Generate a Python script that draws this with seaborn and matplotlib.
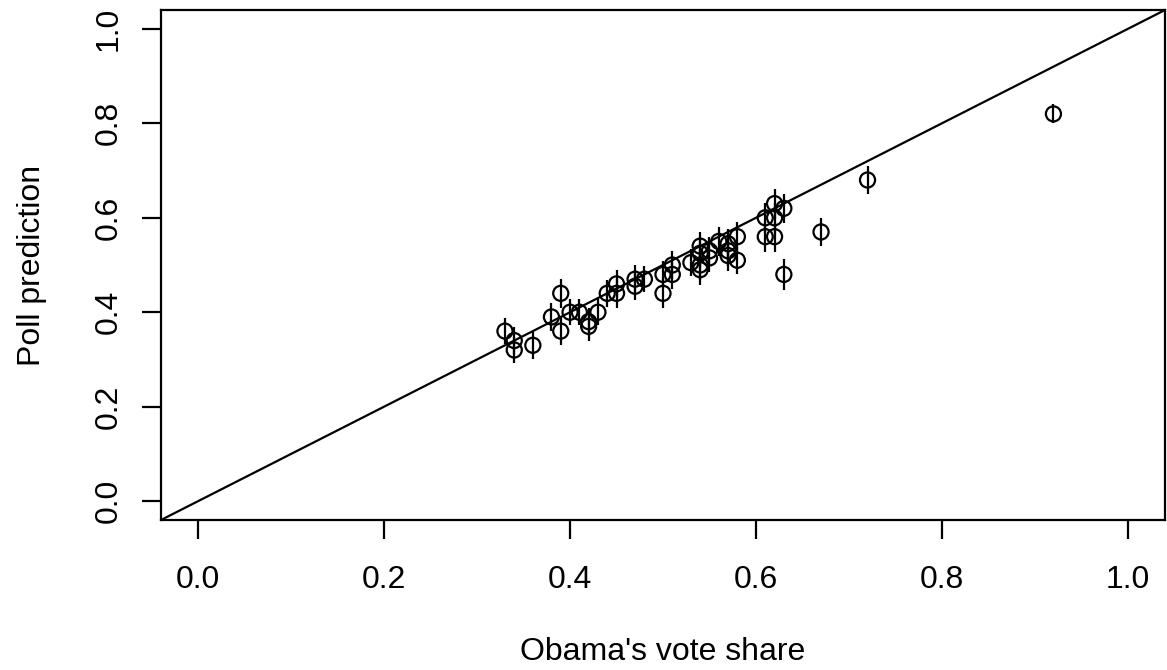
import matplotlib
matplotlib.use("Agg")
import matplotlib.pyplot as plt
import seaborn as sns
import numpy as np
import pandas as pd

# Data
vote_share = [0.33, 0.34, 0.34, 0.36, 0.38, 0.39, 0.39, 0.40, 0.41, 0.42,
              0.42, 0.43, 0.44, 0.45, 0.45, 0.47, 0.47, 0.48, 0.50, 0.50,
              0.51, 0.51, 0.53, 0.54, 0.54, 0.54, 0.54, 0.55, 0.55, 0.56,
              0.57, 0.57, 0.57, 0.58, 0.58, 0.61, 0.61, 0.62, 0.62, 0.62,
              0.63, 0.63, 0.67, 0.72, 0.92]
poll_pred = [0.36, 0.34, 0.32, 0.33, 0.39, 0.44, 0.36, 0.40, 0.40, 0.38,
             0.37, 0.40, 0.44, 0.46, 0.44, 0.47, 0.455, 0.47, 0.48, 0.44,
             0.50, 0.48, 0.505, 0.54, 0.525, 0.50, 0.49, 0.53, 0.515, 0.55,
             0.545, 0.53, 0.52, 0.56, 0.51, 0.60, 0.56, 0.63, 0.60, 0.56,
             0.62, 0.48, 0.57, 0.68, 0.82]
poll_se = [0.028, 0.028, 0.028, 0.028, 0.030, 0.030, 0.030, 0.028, 0.028, 0.030,
           0.030, 0.028, 0.028, 0.030, 0.030, 0.030, 0.030, 0.028, 0.028, 0.030,
           0.030, 0.030, 0.028, 0.030, 0.030, 0.032, 0.032, 0.030, 0.030, 0.030,
           0.032, 0.032, 0.032, 0.030, 0.030, 0.032, 0.032, 0.032, 0.032, 0.032,
           0.030, 0.032, 0.030, 0.029, 0.020]
tick_vals = [0.0, 0.2, 0.4, 0.6, 0.8, 1.0]
tick_labels = ["0.0", "0.2", "0.4", "0.6", "0.8", "1.0"]

df = pd.DataFrame({"x": vote_share, "y": poll_pred, "se": poll_se})

sns.set_style("white")
plt.rcParams["font.family"] = ["Liberation Sans", "DejaVu Sans"]
plt.rcParams["text.color"] = "black"
plt.rcParams["axes.labelcolor"] = "black"
plt.rcParams["xtick.color"] = "black"
plt.rcParams["ytick.color"] = "black"

W, H = 1167, 670
fig = plt.figure(figsize=(W / 100, H / 100), dpi=100)
ax = fig.add_axes([161 / W, 1 - 520 / H, (1165 - 161) / W, (520 - 10) / H])

lw = 1.6
fs = 23
ax.vlines(df["x"], df["y"] - df["se"], df["y"] + df["se"], color="black", lw=lw, zorder=2)
sns.scatterplot(data=df, x="x", y="y", ax=ax, marker="o", s=118,
                facecolor="none", edgecolor="black", linewidth=lw, zorder=3)
ax.axline((0, 0), slope=1, color="black", lw=lw, zorder=1)

ax.set_xlim(-0.04, 1.04)
ax.set_ylim(-0.04, 1.04)
ax.set_xticks(tick_vals)
ax.set_xticklabels(tick_labels)
ax.set_yticks(tick_vals)
ax.set_yticklabels(tick_labels, rotation=90, va="center")

for s in ax.spines.values():
    s.set_visible(True)
    s.set_linewidth(lw)
    s.set_color("black")

ax.tick_params(axis="both", direction="out", length=13.7, width=lw, color="black",
               labelsize=fs, labelcolor="black", bottom=True, left=True)
ax.tick_params(axis="x", pad=19)
ax.tick_params(axis="y", pad=13)

ax.set_xlabel("Obama's vote share", fontsize=fs, labelpad=30, color="black")
ax.set_ylabel("Poll prediction", fontsize=fs, labelpad=34, color="black")

fig.savefig("out.png", dpi=100)
